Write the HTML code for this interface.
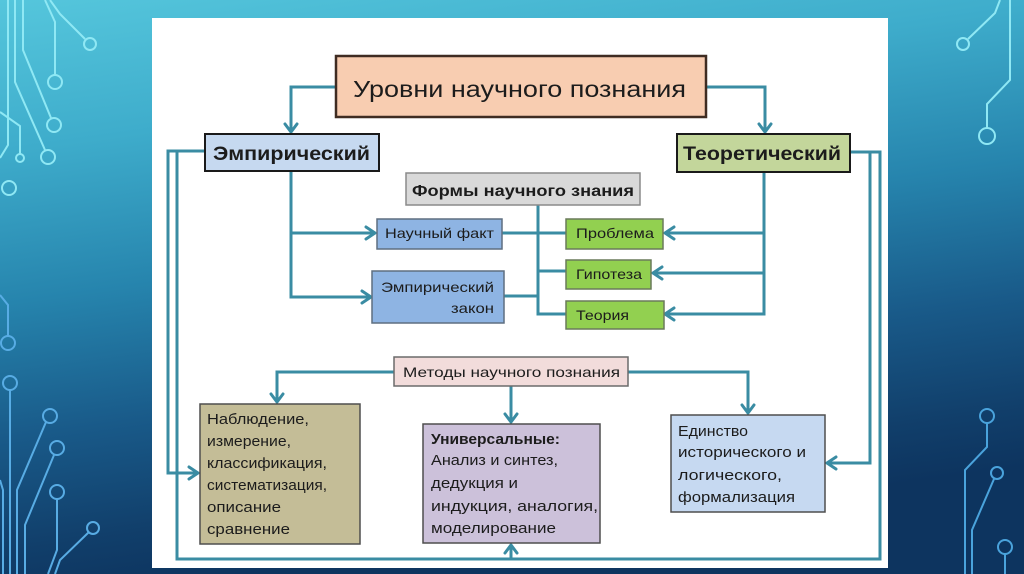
<!DOCTYPE html>
<html><head><meta charset="utf-8"><style>
html,body{margin:0;padding:0;width:1024px;height:574px;overflow:hidden;background:#1c5f8c;}
svg{display:block}
text{font-family:"Liberation Sans",sans-serif;fill:#1c1c1c;}
</style></head><body>
<svg width="1024" height="574" viewBox="0 0 1024 574" xmlns="http://www.w3.org/2000/svg">
<defs>
<linearGradient id="bg" x1="0" y1="0" x2="0.25" y2="1">
<stop offset="0" stop-color="#55c6dc"/>
<stop offset="0.25" stop-color="#3eaccb"/>
<stop offset="0.5" stop-color="#2684ad"/>
<stop offset="0.72" stop-color="#195a89"/>
<stop offset="0.9" stop-color="#113f6b"/>
<stop offset="1" stop-color="#0d345f"/>
</linearGradient>
</defs>
<rect width="1024" height="574" fill="url(#bg)"/>

<!-- circuits top-left -->
<g fill="none" stroke="#8fe8f4" stroke-width="2">
<path d="M50,0 L60,14 L85,39"/><circle cx="90" cy="44" r="6"/>
<path d="M45,0 L55,22 L55,75"/><circle cx="55" cy="82" r="7"/>
<path d="M23,0 L23,50 L51,118"/><circle cx="54" cy="125" r="7"/>
<path d="M15,0 L15,82 L45,150"/><circle cx="48" cy="157" r="7"/>
<path d="M0,112 L20,126 L20,154"/><circle cx="20" cy="158" r="4"/>
<path d="M8,0 L8,145 L0,158"/><circle cx="9" cy="188" r="7"/>
</g>
<!-- circuits bottom-left -->
<g fill="none" stroke="#58ace4" stroke-width="2">
<path d="M0,295 L8,305 L8,336"/><circle cx="8" cy="343" r="7"/>
<circle cx="10" cy="383" r="7"/><path d="M10,390 V574"/>
<circle cx="50" cy="416" r="7"/><path d="M46,422 L17,490 V574"/>
<circle cx="57" cy="448" r="7"/><path d="M54,455 L25,525 V574"/>
<circle cx="57" cy="492" r="7"/><path d="M57,499 V550 L48,574"/>
<circle cx="93" cy="528" r="6"/><path d="M89,532 L60,560 L55,574"/>
<path d="M0,480 L3,490 V574"/>
</g>
<!-- circuits top-right -->
<g fill="none" stroke="#8fe8f4" stroke-width="2">
<path d="M1000,0 L995,13 L968,39"/><circle cx="963" cy="44" r="6"/>
<path d="M1010,0 V80 L987,104 V128"/><circle cx="987" cy="136" r="8"/>
</g>
<!-- circuits bottom-right -->
<g fill="none" stroke="#4aa3dc" stroke-width="2">
<circle cx="987" cy="416" r="7"/><path d="M987,423 V447 L965,470 V574"/>
<circle cx="997" cy="473" r="6"/><path d="M994,479 L972,530 V574"/>
<circle cx="1005" cy="547" r="7"/><path d="M1005,554 V574"/>
</g>

<!-- white panel -->
<rect x="152" y="18" width="736" height="550" fill="#ffffff"/>

<!-- connectors -->
<g fill="none" stroke="#3a8ca3" stroke-width="3" stroke-linejoin="miter">
<path d="M335,87 H291 V131"/>
<path d="M706,87 H765 V131"/>
<path d="M291,170 V297 H370"/>
<path d="M291,233 H375"/>
<path d="M764,172 V314 H666"/>
<path d="M764,233 H666"/>
<path d="M764,273 H654"/>
<path d="M538,205 V314 H566"/>
<path d="M502,233 H566"/>
<path d="M538,271 H566"/>
<path d="M504,296 H538"/>
<path d="M204,151 H168 V473 H197"/>
<path d="M204,151 H177 V559 H880 V152 H850"/>
<path d="M870,152 V463 H828"/>
<path d="M511,559 V546"/>
<path d="M394,372 H277 V401"/>
<path d="M628,372 H748 V412"/>
<path d="M511,386 V421"/>
</g>
<!-- arrowheads -->
<g fill="none" stroke="#3a8ca3" stroke-width="3" stroke-linecap="round" stroke-linejoin="miter">
<polyline points="285,124 291,132 297,124"/>
<polyline points="759,124 765,132 771,124"/>
<polyline points="366,227 375,233 366,239"/>
<polyline points="362,291 371,297 362,303"/>
<polyline points="674,227 665,233 674,239"/>
<polyline points="662,267 653,273 662,279"/>
<polyline points="674,308 665,314 674,320"/>
<polyline points="189,467 198,473 189,479"/>
<polyline points="836,457 827,463 836,469"/>
<polyline points="505,553 511,545 517,553"/>
<polyline points="271,394 277,402 283,394"/>
<polyline points="742,405 748,413 754,405"/>
<polyline points="505,414 511,422 517,414"/>
</g>

<!-- boxes -->
<rect x="336" y="56" width="370" height="61" fill="#f8cdb1" stroke="#3f2c22" stroke-width="2.5"/>
<rect x="205" y="134" width="174" height="37" fill="#c6d9f0" stroke="#1a1a1a" stroke-width="2"/>
<rect x="677" y="134" width="173" height="38" fill="#c3d69b" stroke="#1a1a1a" stroke-width="2"/>
<rect x="406" y="173" width="234" height="32" fill="#d9d9d9" stroke="#8a8a8a" stroke-width="1.5"/>
<rect x="377" y="219" width="125" height="30" fill="#8eb4e3" stroke="#5f6f80" stroke-width="1.5"/>
<rect x="372" y="271" width="132" height="52" fill="#8eb4e3" stroke="#5f6f80" stroke-width="1.5"/>
<rect x="566" y="219" width="97" height="30" fill="#92d050" stroke="#6a7a5a" stroke-width="1.5"/>
<rect x="566" y="260" width="85" height="29" fill="#92d050" stroke="#6a7a5a" stroke-width="1.5"/>
<rect x="566" y="301" width="98" height="28" fill="#92d050" stroke="#6a7a5a" stroke-width="1.5"/>
<rect x="394" y="357" width="234" height="29" fill="#f2dcdb" stroke="#6b6b6b" stroke-width="1.5"/>
<rect x="200" y="404" width="160" height="140" fill="#c4bd97" stroke="#4e4e4e" stroke-width="1.5"/>
<rect x="423" y="424" width="177" height="119" fill="#ccc1da" stroke="#4e4e4e" stroke-width="1.5"/>
<rect x="671" y="415" width="154" height="97" fill="#c6d9f1" stroke="#4e4e4e" stroke-width="1.5"/>

<!-- text -->
<text x="353" y="97" font-size="23" textLength="333" lengthAdjust="spacingAndGlyphs">Уровни научного познания</text>
<text x="213" y="160" font-size="19" font-weight="bold" textLength="157" lengthAdjust="spacingAndGlyphs">Эмпирический</text>
<text x="683" y="160" font-size="19" font-weight="bold" textLength="158" lengthAdjust="spacingAndGlyphs">Теоретический</text>
<text x="412" y="196" font-size="16" font-weight="bold" textLength="222" lengthAdjust="spacingAndGlyphs">Формы научного знания</text>
<text x="385" y="238" font-size="14" textLength="109" lengthAdjust="spacingAndGlyphs">Научный факт</text>
<text x="576" y="238" font-size="14" textLength="78" lengthAdjust="spacingAndGlyphs">Проблема</text>
<text x="576" y="279" font-size="14" textLength="66" lengthAdjust="spacingAndGlyphs">Гипотеза</text>
<text x="381" y="292" font-size="14" textLength="113" lengthAdjust="spacingAndGlyphs">Эмпирический</text>
<text x="451" y="313" font-size="14" textLength="43" lengthAdjust="spacingAndGlyphs">закон</text>
<text x="576" y="320" font-size="14" textLength="53" lengthAdjust="spacingAndGlyphs">Теория</text>
<text x="403" y="377" font-size="14" textLength="217" lengthAdjust="spacingAndGlyphs">Методы научного познания</text>

<g font-size="15">
<text x="207" y="424" textLength="102" lengthAdjust="spacingAndGlyphs">Наблюдение,</text>
<text x="207" y="446" textLength="84" lengthAdjust="spacingAndGlyphs">измерение,</text>
<text x="207" y="468" textLength="120" lengthAdjust="spacingAndGlyphs">классификация,</text>
<text x="207" y="490" textLength="120" lengthAdjust="spacingAndGlyphs">систематизация,</text>
<text x="207" y="512" textLength="74" lengthAdjust="spacingAndGlyphs">описание</text>
<text x="207" y="534" textLength="83" lengthAdjust="spacingAndGlyphs">сравнение</text>

<text x="431" y="444" font-weight="bold" textLength="129" lengthAdjust="spacingAndGlyphs">Универсальные:</text>
<text x="431" y="465" textLength="127" lengthAdjust="spacingAndGlyphs">Анализ и синтез,</text>
<text x="431" y="488" textLength="87" lengthAdjust="spacingAndGlyphs">дедукция и</text>
<text x="431" y="511" textLength="167" lengthAdjust="spacingAndGlyphs">индукция, аналогия,</text>
<text x="431" y="533" textLength="125" lengthAdjust="spacingAndGlyphs">моделирование</text>

<text x="678" y="436" textLength="70" lengthAdjust="spacingAndGlyphs">Единство</text>
<text x="678" y="457" textLength="128" lengthAdjust="spacingAndGlyphs">исторического и</text>
<text x="678" y="480" textLength="104" lengthAdjust="spacingAndGlyphs">логического,</text>
<text x="678" y="502" textLength="117" lengthAdjust="spacingAndGlyphs">формализация</text>
</g>
</svg>
</body></html>
